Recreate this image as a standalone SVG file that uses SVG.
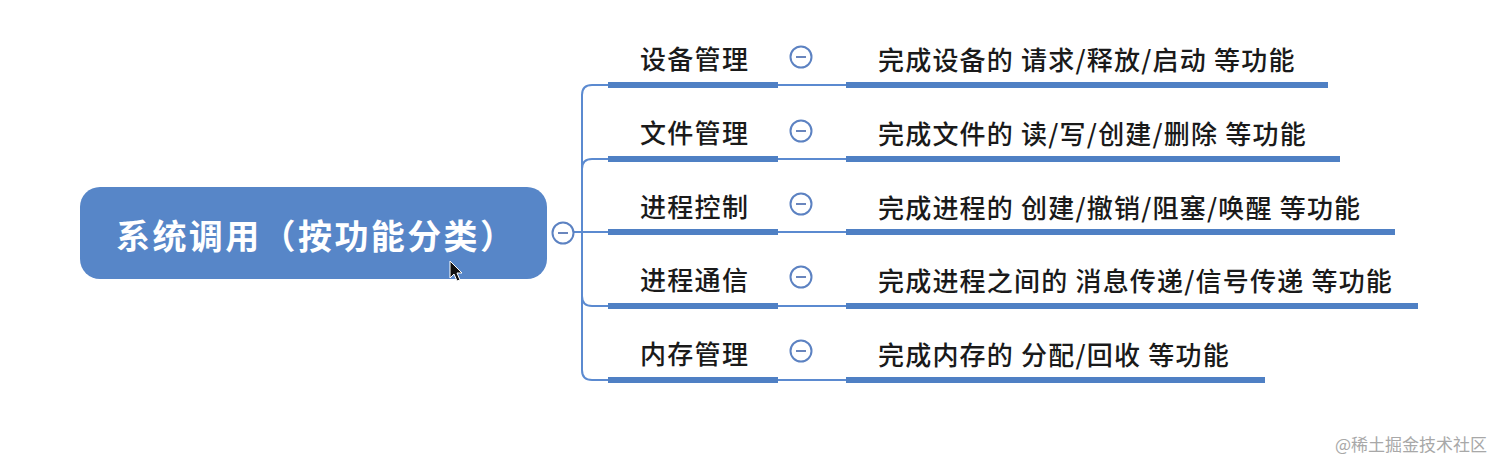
<svg xmlns="http://www.w3.org/2000/svg" width="1512" height="470" viewBox="0 0 1512 470">
<style>
.bg{fill:#ffffff}
.root{fill:#5786c8}
.rt{font-family:"Noto Sans CJK SC","Noto Sans",sans-serif;font-weight:bold;font-size:34px;letter-spacing:2.4px;fill:#ffffff}
.tp{font-family:"Noto Sans CJK SC","Noto Sans",sans-serif;font-weight:500;font-size:26px;letter-spacing:1.3px;fill:#1a1a1a}
.dt{font-family:"Noto Sans CJK SC","Noto Sans",sans-serif;font-weight:500;font-size:26px;letter-spacing:1.2px;fill:#1a1a1a}
.thick{stroke:#4f80c4;stroke-width:6;fill:none}
.thin{stroke:#5b8ad0;stroke-width:2;fill:none}
.tog{fill:#ffffff;stroke:#5c82c2;stroke-width:2}
.minus{stroke:#6a86bd;stroke-width:2}
.wm{font-family:"Noto Sans CJK SC","Noto Sans",sans-serif;font-size:17px;fill:#a8a8a8}
</style>
<rect class="bg" x="0" y="0" width="1512" height="470"/>
<g id="connectors">
<path class="thin" d="M574,232 H582"/>
<path class="thin" d="M582,232 V95 Q582,85 592,85 H608"/>
<path class="thin" d="M582,232 V169 Q582,159 592,159 H608"/>
<path class="thin" d="M582,232 H608"/>
<path class="thin" d="M582,232 V296 Q582,306 592,306 H608"/>
<path class="thin" d="M582,232 V370 Q582,380 592,380 H608"/>
<path class="thin" d="M778,85 H846"/>
<path class="thin" d="M778,159 H846"/>
<path class="thin" d="M778,232 H846"/>
<path class="thin" d="M778,306 H846"/>
<path class="thin" d="M778,380 H846"/>
</g>
<g id="root">
<rect class="root" x="80" y="187" width="467" height="92" rx="20"/>
<text class="rt" x="116" y="234" dominant-baseline="central">系统调用（按功能分类）</text>
<circle class="tog" cx="563" cy="233" r="10.5"/>
<line class="minus" x1="558" y1="233" x2="568" y2="233"/>
</g>
<g id="t1">
<line class="thick" x1="608" y1="85" x2="778" y2="85"/>
<text class="tp" x="640" y="57" dominant-baseline="central">设备管理</text>
<circle class="tog" cx="801" cy="57" r="10.5"/>
<line class="minus" x1="796" y1="57" x2="806" y2="57"/>
</g>
<g id="d1">
<line class="thick" x1="846" y1="85" x2="1328" y2="85"/>
<text class="dt" x="878" y="58" dominant-baseline="central">完成设备的 请求/释放/启动 等功能</text>
</g>
<g id="t2">
<line class="thick" x1="608" y1="159" x2="778" y2="159"/>
<text class="tp" x="640" y="131" dominant-baseline="central">文件管理</text>
<circle class="tog" cx="801" cy="131" r="10.5"/>
<line class="minus" x1="796" y1="131" x2="806" y2="131"/>
</g>
<g id="d2">
<line class="thick" x1="846" y1="159" x2="1340" y2="159"/>
<text class="dt" x="878" y="132" dominant-baseline="central">完成文件的 读/写/创建/删除 等功能</text>
</g>
<g id="t3">
<line class="thick" x1="608" y1="232" x2="778" y2="232"/>
<text class="tp" x="640" y="205" dominant-baseline="central">进程控制</text>
<circle class="tog" cx="801" cy="204" r="10.5"/>
<line class="minus" x1="796" y1="204" x2="806" y2="204"/>
</g>
<g id="d3">
<line class="thick" x1="846" y1="232" x2="1395" y2="232"/>
<text class="dt" x="878" y="206" dominant-baseline="central">完成进程的 创建/撤销/阻塞/唤醒 等功能</text>
</g>
<g id="t4">
<line class="thick" x1="608" y1="306" x2="778" y2="306"/>
<text class="tp" x="640" y="278" dominant-baseline="central">进程通信</text>
<circle class="tog" cx="801" cy="277" r="10.5"/>
<line class="minus" x1="796" y1="277" x2="806" y2="277"/>
</g>
<g id="d4">
<line class="thick" x1="846" y1="306" x2="1418" y2="306"/>
<text class="dt" x="878" y="279" dominant-baseline="central">完成进程之间的 消息传递/信号传递 等功能</text>
</g>
<g id="t5">
<line class="thick" x1="608" y1="380" x2="778" y2="380"/>
<text class="tp" x="640" y="352" dominant-baseline="central">内存管理</text>
<circle class="tog" cx="801" cy="351" r="10.5"/>
<line class="minus" x1="796" y1="351" x2="806" y2="351"/>
</g>
<g id="d5">
<line class="thick" x1="846" y1="380" x2="1265" y2="380"/>
<text class="dt" x="878" y="353" dominant-baseline="central">完成内存的 分配/回收 等功能</text>
</g>
<path d="M450,261 L450,278 L454,274 L457,281 L460,280 L457,273 L462,273 Z" fill="#111" stroke="#fff" stroke-width="1"/>
<text class="wm" x="1335" y="443" dominant-baseline="central">@稀土掘金技术社区</text>
</svg>
